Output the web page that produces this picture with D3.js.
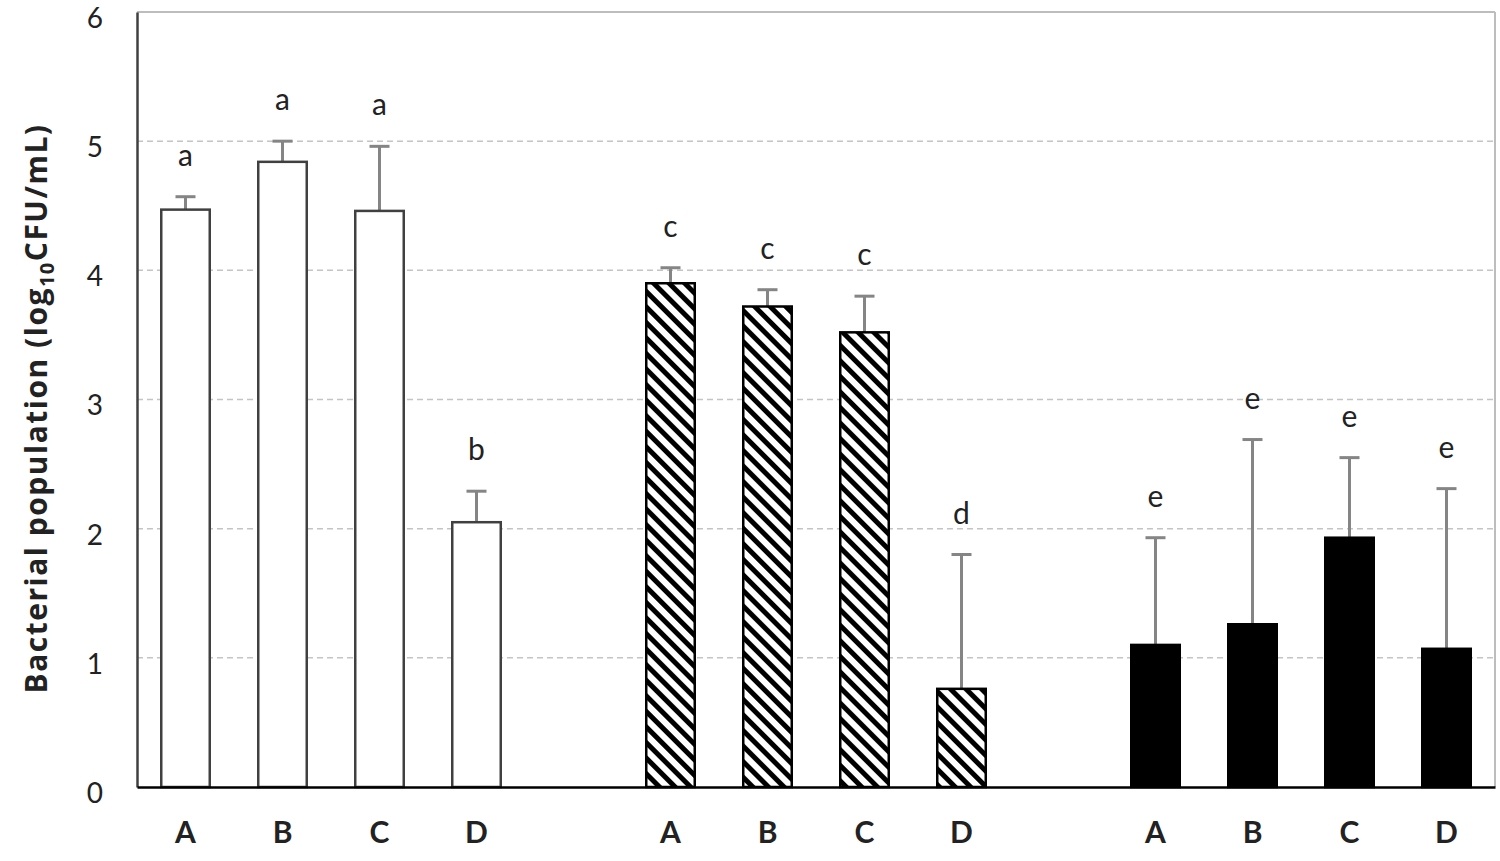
<!DOCTYPE html>
<html>
<head>
<meta charset="utf-8">
<script src="https://cdn.jsdelivr.net/npm/d3@7"></script>
<style>
  body { margin: 0; background: #fff; }
  text { fill: #222; }
</style>
</head>
<body>
<svg width="1500" height="861"></svg>
<script>
// treatments, repeated in each of the three groups
const treatments = ["A", "B", "C", "D"];

// means (log10 CFU/mL)
const meansWhite = [4.47, 4.84, 4.46, 2.05];
const meansHatch = [3.90, 3.72, 3.52, 0.76];
const meansBlack = [1.10, 1.26, 1.93, 1.07];

// upper error bar lengths
const errWhite = [0.10, 0.16, 0.50, 0.24];
const errHatch = [0.12, 0.13, 0.28, 1.04];
const errBlack = [0.83, 1.43, 0.62, 1.24];

// significance letters
const lettersWhite = ["a", "a", "a", "b"];
const lettersHatch = ["c", "c", "c", "d"];
const lettersBlack = ["e", "e", "e", "e"];

const yTicks = [0, 1, 2, 3, 4, 5, 6];

const svg = d3.select("svg");
const margin = { top: 12, right: 5, bottom: 74, left: 137 };
const width = 1500 - margin.left - margin.right;
const height = 861 - margin.top - margin.bottom;

// hatch pattern for the middle group
const defs = svg.append("defs");
const pat = defs.append("pattern")
  .attr("id", "hatch")
  .attr("patternUnits", "userSpaceOnUse")
  .attr("width", 11)
  .attr("height", 11)
  .attr("patternTransform", "rotate(45)");
pat.append("rect").attr("width", 11).attr("height", 11).attr("fill", "#fff");
pat.append("line")
  .attr("x1", 0).attr("x2", 11)
  .attr("y1", 2.5).attr("y2", 2.5)
  .attr("stroke", "#000").attr("stroke-width", 5);

const g = svg.append("g").attr("transform", `translate(${margin.left},${margin.top})`);

// 3 groups of 4 with one empty slot between groups -> 14 slots
const groups = [
  { fill: "#fff", stroke: "#404040", means: meansWhite, err: errWhite, letters: lettersWhite },
  { fill: "url(#hatch)", stroke: "#000", means: meansHatch, err: errHatch, letters: lettersHatch },
  { fill: "#000", stroke: "#000", means: meansBlack, err: errBlack, letters: lettersBlack }
];

const bars = [];
groups.forEach((grp, gi) => {
  treatments.forEach((t, i) => {
    bars.push({
      slot: gi * 5 + i,
      label: t,
      mean: grp.means[i],
      err: grp.err[i],
      letter: grp.letters[i],
      fill: grp.fill,
      stroke: grp.stroke
    });
  });
});

const x = d3.scaleBand()
  .domain(d3.range(14))
  .range([0, width])
  .paddingInner(0.5)
  .paddingOuter(0.25);

const y = d3.scaleLinear().domain([0, 6]).range([height, 0]);

// grid lines
g.append("g")
  .selectAll("line")
  .data(yTicks.filter(d => d > 0 && d < 6))
  .join("line")
  .attr("x1", 0)
  .attr("x2", width)
  .attr("y1", d => y(d))
  .attr("y2", d => y(d))
  .attr("stroke", "#c4c4c4")
  .attr("stroke-width", 1.5)
  .attr("stroke-dasharray", "6,4");

// top and right frame
g.append("line")
  .attr("x1", 0).attr("x2", width)
  .attr("y1", y(6)).attr("y2", y(6))
  .attr("stroke", "#bdbdbd").attr("stroke-width", 2);
g.append("line")
  .attr("x1", width).attr("x2", width)
  .attr("y1", y(6)).attr("y2", y(0))
  .attr("stroke", "#bdbdbd").attr("stroke-width", 2);

// error bars
const eb = g.append("g")
  .selectAll("g")
  .data(bars)
  .join("g")
  .attr("stroke", "#858585")
  .attr("stroke-width", 3);
eb.append("line")
  .attr("x1", d => x(d.slot) + x.bandwidth() / 2)
  .attr("x2", d => x(d.slot) + x.bandwidth() / 2)
  .attr("y1", d => y(d.mean))
  .attr("y2", d => y(d.mean + d.err));
eb.append("line")
  .attr("x1", d => x(d.slot) + x.bandwidth() / 2 - 10)
  .attr("x2", d => x(d.slot) + x.bandwidth() / 2 + 10)
  .attr("y1", d => y(d.mean + d.err))
  .attr("y2", d => y(d.mean + d.err));

// bars
g.append("g")
  .selectAll("rect")
  .data(bars)
  .join("rect")
  .attr("x", d => x(d.slot))
  .attr("y", d => y(d.mean))
  .attr("width", x.bandwidth())
  .attr("height", d => y(0) - y(d.mean))
  .attr("fill", d => d.fill)
  .attr("stroke", d => d.stroke)
  .attr("stroke-width", 2.5);

// letters
g.append("g")
  .selectAll("text")
  .data(bars)
  .join("text")
  .attr("x", d => x(d.slot) + x.bandwidth() / 2)
  .attr("y", d => y(d.mean + d.err) - 31)
  .attr("text-anchor", "middle")
  .style("font-family", "Lato, sans-serif")
  .style("font-size", "30px")
  .text(d => d.letter);

// y axis
const yAxis = g.append("g")
  .call(d3.axisLeft(y).tickValues(yTicks).tickSize(0).tickPadding(34).tickFormat(d3.format("d")));
yAxis.select(".domain").attr("stroke", "#404040").attr("stroke-width", 2.5);
yAxis.selectAll("text")
  .attr("dy", "0.55em")
  .style("font-family", "Lato, sans-serif")
  .style("font-size", "28px")
  .style("fill", "#222");

// x axis
const xAxis = g.append("g")
  .attr("transform", `translate(0,${height})`)
  .call(d3.axisBottom(x)
    .tickValues(bars.map(d => d.slot))
    .tickFormat(s => bars.find(b => b.slot === s).label)
    .tickSize(0)
    .tickPadding(35));
xAxis.select(".domain").attr("stroke", "#000").attr("stroke-width", 2.5);
xAxis.selectAll("text")
  .style("font-family", "Lato, sans-serif")
  .style("font-size", "30px")
  .style("font-weight", "bold")
  .style("fill", "#222");

// y title
const title = svg.append("text")
  .attr("transform", `translate(47,${margin.top + height / 2 + 9}) rotate(-90)`)
  .attr("text-anchor", "middle")
  .style("font-family", "'Open Sans', sans-serif")
  .style("font-size", "30px")
  .style("font-weight", "bold")
  .style("letter-spacing", "1.5px");
title.append("tspan").text("Bacterial population (log");
title.append("tspan").style("font-size", "20px").attr("dy", 7).text("10");
title.append("tspan").attr("dy", -7).text("CFU/mL)");
</script>
</body>
</html>
